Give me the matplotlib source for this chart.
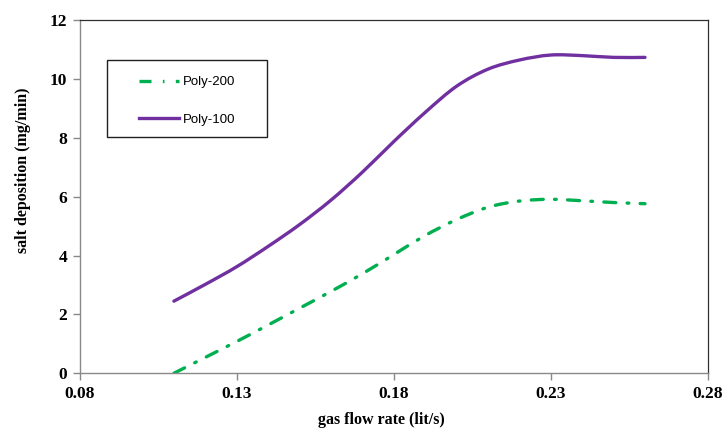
import matplotlib
matplotlib.use("Agg")
import matplotlib.pyplot as plt
from matplotlib.path import Path
from matplotlib.patches import PathPatch, Rectangle
from matplotlib.lines import Line2D

# gas flow rate (lit/s) and salt deposition (mg/min)
flow_rate = [0.11, 0.12, 0.13, 0.14, 0.15, 0.16, 0.17, 0.18,
             0.19, 0.20, 0.21, 0.22, 0.23, 0.24, 0.25, 0.26]
poly200 = [0.0, 0.54, 1.08, 1.64, 2.21, 2.78, 3.38, 4.03,
           4.68, 5.22, 5.64, 5.85, 5.91, 5.86, 5.80, 5.76]
poly100 = [2.45, 3.02, 3.62, 4.31, 5.05, 5.88, 6.83, 7.87,
           8.86, 9.75, 10.33, 10.64, 10.81, 10.79, 10.73, 10.73]

xticks = [0.08, 0.13, 0.18, 0.23, 0.28]
xtick_labels = ["0.08", "0.13", "0.18", "0.23", "0.28"]
yticks = [0, 2, 4, 6, 8, 10, 12]

GREEN = "#00B050"
PURPLE = "#7030A0"
GREEN_DASH = (0, (3.6, 3.4, 0.5, 3.4))


def smooth_path(xs, ys):
    # Excel style smoothed line: Bezier segments through every data point
    pts = list(zip(xs, ys))
    verts = [pts[0]]
    codes = [Path.MOVETO]
    n = len(pts)
    for i in range(n - 1):
        p0 = pts[max(i - 1, 0)]
        p1 = pts[i]
        p2 = pts[i + 1]
        p3 = pts[min(i + 2, n - 1)]
        c1 = (p1[0] + (p2[0] - p0[0]) / 6, p1[1] + (p2[1] - p0[1]) / 6)
        c2 = (p2[0] - (p3[0] - p1[0]) / 6, p2[1] - (p3[1] - p1[1]) / 6)
        verts += [c1, c2, p2]
        codes += [Path.CURVE4] * 3
    return Path(verts, codes)


fig = plt.figure(figsize=(7.23, 4.30), dpi=100)
ax = fig.add_axes([0.1102, 0.1319, 0.8688, 0.8216])

ax.add_patch(PathPatch(smooth_path(flow_rate, poly200), fill=False, ec=GREEN, lw=2.4,
                       linestyle=GREEN_DASH, capstyle="round"))
ax.add_patch(PathPatch(smooth_path(flow_rate, poly100), fill=False, ec=PURPLE, lw=2.4,
                       capstyle="round"))

ax.set_xlim(0.08, 0.28)
ax.set_ylim(0, 12)
ax.set_xticks(xticks)
ax.set_xticklabels(xtick_labels)
ax.set_yticks(yticks)

for side in ["left", "bottom"]:
    ax.spines[side].set_color("#898989")
    ax.spines[side].set_linewidth(1.0)
for side in ["top", "right"]:
    ax.spines[side].set_color("#303030")
    ax.spines[side].set_linewidth(0.9)

ax.tick_params(axis="both", direction="out", length=5, width=1.0, color="#898989",
               labelsize=12.5, pad=4)
for lbl in ax.get_xticklabels() + ax.get_yticklabels():
    lbl.set_fontfamily("Liberation Serif")
    lbl.set_fontweight("bold")

ax.set_xlabel("gas flow rate (lit/s)", fontfamily="Liberation Serif", fontweight="bold",
              fontsize=11.5)
ax.set_ylabel("salt deposition (mg/min)", fontfamily="Liberation Serif", fontweight="bold",
              fontsize=11.5)
ax.xaxis.set_label_coords(0.48, -0.11)
ax.yaxis.set_label_coords(-0.077, 0.575)

handles = [Line2D([], [], color=GREEN, lw=2.4, linestyle=GREEN_DASH),
           Line2D([], [], color=PURPLE, lw=2.4)]
ax.legend(handles, ["Poly-200", "Poly-100"], loc="upper left",
          bbox_to_anchor=(139 / 723, 1 - 76 / 430), bbox_transform=fig.transFigure,
          frameon=False, prop={"family": "Liberation Sans", "size": 9.5},
          handlelength=3.0, handletextpad=0.3, labelspacing=1.9,
          borderpad=0, borderaxespad=0)
fig.add_artist(Rectangle((107 / 723, 1 - 137 / 430), 160 / 723, 77 / 430,
                         transform=fig.transFigure, fill=False, ec="#202020", lw=1.0))

fig.savefig("out.png", dpi=100)
